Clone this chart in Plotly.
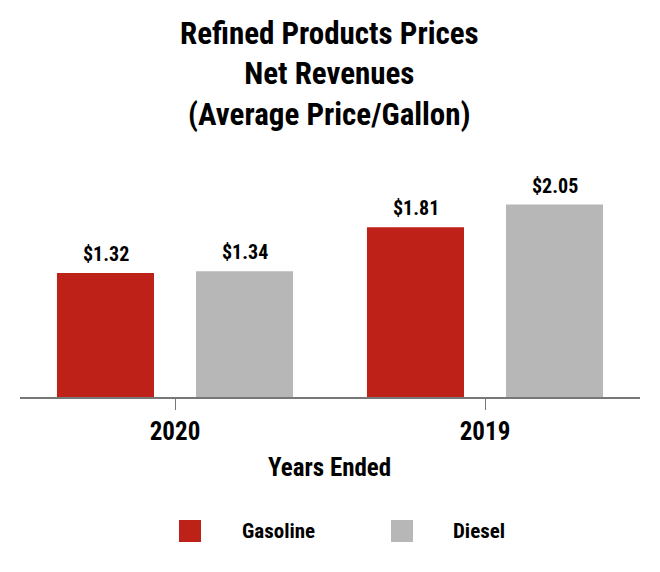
import plotly.graph_objects as go

years = ['2020', '2019']
gasoline = [1.32, 1.81]
diesel = [1.34, 2.05]
series_names = ['Gasoline', 'Diesel']
colors = ['#BE2118', '#B7B7B7']

FONT = 'Roboto Condensed, Roboto, sans-serif'

# zona de trazado en pixeles de pantalla: x 20-640, y 153-397
PX0, PY0, PW, PH = 20, 397, 620, 244


def px(x):
    return (x - PX0) / PW


def py(y):
    return (PY0 - y) / PH


fig = go.Figure()

# barras por serie
for name, vals, col in zip(series_names, [gasoline, diesel], colors):
    fig.add_trace(go.Bar(
        x=years, y=vals, name=name,
        marker=dict(color=col, line=dict(width=0)),
        showlegend=False,
    ))

# etiquetas de valor sobre las barras
for k, vals in enumerate([gasoline, diesel]):
    for i, v in enumerate(vals):
        fig.add_annotation(
            x=i, y=v, xref='x', yref='y',
            text=f'<b>${v:.2f}</b>',
            showarrow=False, yanchor='bottom', yshift=5,
            xshift=(-69.5 if k == 0 else 69.5),
            font=dict(family=FONT, size=20, color='black'),
        )

# leyenda manual (cuadros grandes)
for name, col, x0, xt in [('Gasoline', colors[0], 179, 278), ('Diesel', colors[1], 391, 479)]:
    fig.add_shape(type='rect', xref='paper', yref='paper',
                  x0=px(x0), x1=px(x0 + 22),
                  y0=py(542), y1=py(520),
                  fillcolor=col, line=dict(width=0))
    fig.add_annotation(x=px(xt), y=py(531), xref='paper', yref='paper',
                       text=f'<b>{name}</b>', showarrow=False,
                       xanchor='center', yanchor='middle',
                       font=dict(family=FONT, size=21, color='black'))

fig.add_annotation(x=px(329), y=py(467), xref='paper', yref='paper',
                   text='<b>Years Ended</b>', showarrow=False,
                   xanchor='center', yanchor='middle',
                   font=dict(family=FONT, size=25, color='black'))

# titulo
fig.add_annotation(x=px(329), y=py(13), xref='paper', yref='paper',
                   text='<b>Refined Products Prices<br>Net Revenues<br>(Average Price/Gallon)</b>',
                   showarrow=False, xanchor='center', yanchor='top',
                   font=dict(family=FONT, size=31, color='black'))

fig.update_layout(
    width=660, height=572,
    plot_bgcolor='white', paper_bgcolor='white',
    margin=dict(l=12, r=28, t=145, b=183),
    barmode='group', bargap=0.103, bargroupgap=0.302,
    font=dict(family=FONT, color='black'),
    xaxis=dict(
        showline=True, linecolor='#777777', linewidth=2,
        ticks='outside', ticklen=11, tickcolor='#777777', tickwidth=1,
        tickfont=dict(family=FONT, size=25, color='black'),
        ticklabelstandoff=0,
        tickprefix='<b>', ticksuffix='</b>',
    ),
    yaxis=dict(range=[0, 2.6], visible=False, showgrid=False),
)

fig.write_html('out.html')
